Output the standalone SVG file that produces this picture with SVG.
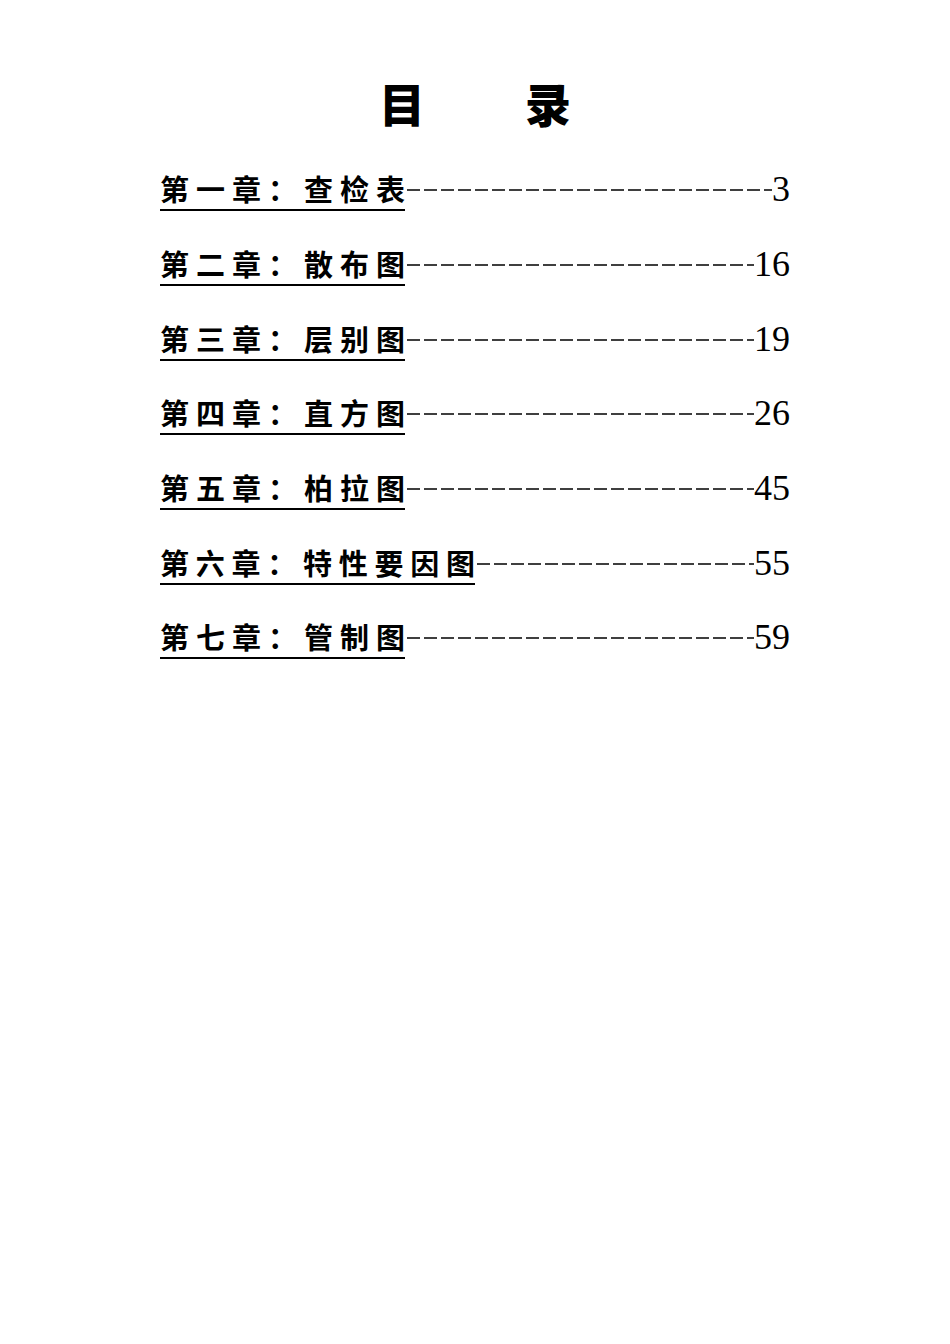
<svg xmlns="http://www.w3.org/2000/svg" width="950" height="1344" viewBox="0 0 950 1344">
<style>
.t{font-family:"Noto Sans CJK SC","Noto Sans CJK JP",sans-serif;font-size:29px;font-weight:bold;fill:#000}
.n{font-family:"Liberation Serif",serif;font-size:36px;fill:#000;text-anchor:end}
.d{stroke:#000;stroke-width:1.3;stroke-dasharray:13 4}
.u{stroke:#000;stroke-width:2}
</style>
<rect width="950" height="1344" fill="#fff"/>
<g id="title"><text x="379" y="122" style="font-family:'Noto Sans CJK SC',sans-serif;font-size:46px;font-weight:900">目</text><text x="525" y="122" style="font-family:'Noto Sans CJK SC',sans-serif;font-size:46px;font-weight:900">录</text></g>
<g id="e1"><text class="t" x="160" y="201" textLength="245" lengthAdjust="spacing">第一章：查检表</text><line class="u" x1="160" y1="210" x2="405" y2="210"/><line class="d" x1="407" y1="190" x2="772" y2="190"/><text class="n" x="790" y="201">3</text></g>
<g id="e2"><text class="t" x="160" y="276" textLength="245" lengthAdjust="spacing">第二章：散布图</text><line class="u" x1="160" y1="285" x2="405" y2="285"/><line class="d" x1="407" y1="265" x2="754" y2="265"/><text class="n" x="790" y="276">16</text></g>
<g id="e3"><text class="t" x="160" y="351" textLength="245" lengthAdjust="spacing">第三章：层别图</text><line class="u" x1="160" y1="360" x2="405" y2="360"/><line class="d" x1="407" y1="340" x2="754" y2="340"/><text class="n" x="790" y="351">19</text></g>
<g id="e4"><text class="t" x="160" y="425" textLength="245" lengthAdjust="spacing">第四章：直方图</text><line class="u" x1="160" y1="434" x2="405" y2="434"/><line class="d" x1="407" y1="414" x2="754" y2="414"/><text class="n" x="790" y="425">26</text></g>
<g id="e5"><text class="t" x="160" y="500" textLength="245" lengthAdjust="spacing">第五章：柏拉图</text><line class="u" x1="160" y1="509" x2="405" y2="509"/><line class="d" x1="407" y1="489" x2="754" y2="489"/><text class="n" x="790" y="500">45</text></g>
<g id="e6"><text class="t" x="160" y="575" textLength="315" lengthAdjust="spacing">第六章：特性要因图</text><line class="u" x1="160" y1="584" x2="475" y2="584"/><line class="d" x1="477" y1="564" x2="754" y2="564"/><text class="n" x="790" y="575">55</text></g>
<g id="e7"><text class="t" x="160" y="649" textLength="245" lengthAdjust="spacing">第七章：管制图</text><line class="u" x1="160" y1="658" x2="405" y2="658"/><line class="d" x1="407" y1="638" x2="754" y2="638"/><text class="n" x="790" y="649">59</text></g>
</svg>
